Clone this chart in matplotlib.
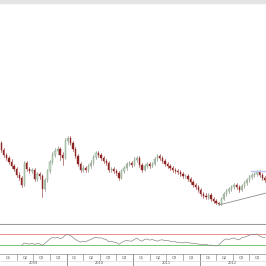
import matplotlib
matplotlib.use("Agg")
import matplotlib.pyplot as plt
from matplotlib.patches import Rectangle

### price candles (two-weekly bars, 2009 - 2012)
first_open = 1.57
closes = [1.50, 1.45, 1.42, 1.38, 1.34, 1.31, 1.25, 1.22, 1.15, 1.37,
          1.31, 1.29, 1.30, 1.21, 1.26, 1.24, 1.11, 1.20, 1.29, 1.38,
          1.45, 1.49, 1.51, 1.45, 1.42, 1.59, 1.62, 1.57, 1.51, 1.44,
          1.36, 1.30, 1.32, 1.30, 1.34, 1.37, 1.43, 1.47, 1.45, 1.42,
          1.39, 1.37, 1.30, 1.31, 1.29, 1.27, 1.22, 1.29, 1.32, 1.36,
          1.37, 1.35, 1.40, 1.42, 1.35, 1.30, 1.34, 1.36, 1.34, 1.36,
          1.41, 1.44, 1.42, 1.39, 1.36, 1.34, 1.32, 1.30, 1.29, 1.28,
          1.26, 1.24, 1.24, 1.21, 1.18, 1.15, 1.13, 1.10, 1.06, 1.04,
          1.03, 1.05, 1.01, 0.99, 0.97, 0.96, 1.01, 1.06, 1.09, 1.11,
          1.13, 1.15, 1.13, 1.10, 1.14, 1.17, 1.20, 1.23, 1.25, 1.26,
          1.28, 1.25, 1.22, 1.20]
highs = [1.59, 1.52, 1.47, 1.44, 1.41, 1.36, 1.33, 1.28, 1.24, 1.39,
         1.39, 1.33, 1.32, 1.32, 1.28, 1.28, 1.26, 1.22, 1.31, 1.40,
         1.48, 1.52, 1.54, 1.53, 1.48, 1.62, 1.64, 1.64, 1.59, 1.53,
         1.46, 1.38, 1.35, 1.34, 1.36, 1.40, 1.45, 1.49, 1.49, 1.47,
         1.44, 1.41, 1.39, 1.33, 1.33, 1.31, 1.29, 1.31, 1.34, 1.38,
         1.39, 1.39, 1.43, 1.44, 1.44, 1.37, 1.36, 1.38, 1.38, 1.38,
         1.43, 1.46, 1.46, 1.44, 1.41, 1.38, 1.36, 1.34, 1.32, 1.31,
         1.30, 1.28, 1.26, 1.26, 1.23, 1.20, 1.17, 1.15, 1.12, 1.08,
         1.07, 1.07, 1.07, 1.03, 1.01, 0.98, 1.03, 1.08, 1.11, 1.13,
         1.15, 1.17, 1.17, 1.15, 1.16, 1.19, 1.22, 1.25, 1.27, 1.28,
         1.30, 1.30, 1.27, 1.24]
lows = [1.48, 1.43, 1.40, 1.36, 1.32, 1.29, 1.23, 1.20, 1.13, 1.14,
        1.29, 1.27, 1.27, 1.19, 1.19, 1.21, 1.03, 1.09, 1.18, 1.27,
        1.36, 1.43, 1.46, 1.40, 1.35, 1.41, 1.56, 1.55, 1.49, 1.42,
        1.34, 1.28, 1.28, 1.28, 1.28, 1.32, 1.35, 1.41, 1.43, 1.40,
        1.37, 1.35, 1.28, 1.28, 1.27, 1.25, 1.20, 1.21, 1.27, 1.30,
        1.34, 1.33, 1.34, 1.38, 1.33, 1.28, 1.29, 1.32, 1.32, 1.33,
        1.35, 1.39, 1.40, 1.37, 1.34, 1.32, 1.30, 1.28, 1.27, 1.26,
        1.24, 1.22, 1.22, 1.19, 1.16, 1.13, 1.11, 1.08, 1.04, 1.02,
        1.01, 1.01, 0.99, 0.97, 0.96, 0.95, 0.95, 1.00, 1.04, 1.07,
        1.09, 1.11, 1.11, 1.08, 1.09, 1.12, 1.15, 1.18, 1.21, 1.23,
        1.24, 1.23, 1.20, 1.18]
opens = [first_open] + closes[:-1]

### RSI(14), starts after the warm-up bars
rsi_start = 8
rsi = [30, 38, 36, 34, 37, 33, 36, 35, 30, 36, 44, 52, 57, 55, 58, 53,
       56, 65, 68, 64, 57, 50, 45, 41, 44, 42, 47, 50, 55, 58, 55, 56,
       52, 50, 42, 44, 41, 39, 33, 40, 44, 47, 45, 44, 50, 55, 48, 44,
       50, 52, 48, 50, 47, 44, 48, 49, 46, 47, 44, 42, 43, 39, 40, 38,
       41, 39, 38, 36, 37, 34, 33, 32, 34, 30, 31, 29, 28, 30, 40, 48,
       52, 50, 54, 55, 51, 49, 56, 58, 61, 65, 68, 67, 69, 62, 58, 57]
rsi_levels = [70, 30]

### drawn lines
trend_x = [85, 103.6]
trend_y = [0.95, 1.07]
resist_x = [97.5, 103.6]
resist_y = [1.29, 1.29]

years = ['2009', '2010', '2011', '2012']
quarters = ['Q1', 'Q2', 'Q3', 'Q4']

UP_EDGE = '#6f9a6f'
UP_FACE = '#cfdccf'
DOWN = '#8e2424'

fig = plt.figure(figsize=(2.66, 2.66), dpi=100)
fig.patch.set_facecolor('white')
fig.patches.append(Rectangle((0, 0.9887), 1, 0.0113, transform=fig.transFigure,
                             color='#e4e4e4', zorder=0))

# main price panel
ax = fig.add_axes([0, 0.1541, 1, 0.8346])
for i in range(len(closes)):
    o, c, h, l = opens[i], closes[i], highs[i], lows[i]
    up = c >= o
    col = UP_EDGE if up else DOWN
    ax.plot([i, i], [l, h], color='#7a7a7a' if up else DOWN, lw=0.4, zorder=2)
    ax.add_patch(Rectangle((i - 0.25, min(o, c)), 0.5, max(abs(c - o), 0.004),
                           facecolor=UP_FACE if up else DOWN, edgecolor=col,
                           lw=0.3, zorder=3))
ax.plot(trend_x, trend_y, color='#8c8c8c', lw=0.6, zorder=4)
ax.plot(resist_x, resist_y, color='#b8c8f0', lw=1.0, zorder=4)
ax.set_xlim(-0.5, 103.5)
ax.set_ylim(0.75, 2.97)
ax.set_xticks([])
ax.set_yticks([])
for s in ['top', 'left', 'right']:
    ax.spines[s].set_visible(False)
ax.spines['bottom'].set_color('#9a9a9a')
ax.spines['bottom'].set_linewidth(1.5)

# RSI panel
ax2 = fig.add_axes([0, 0.0451, 1, 0.109])
ax2.axhline(rsi_levels[0], color='#f08a8a', lw=0.7)
ax2.axhline(rsi_levels[1], color='#7cc47c', lw=0.7)
ax2.plot(range(rsi_start, rsi_start + len(rsi)), rsi, color='#8a8a8a', lw=0.5)
ax2.set_xlim(-0.5, 103.5)
ax2.set_ylim(0, 100)
ax2.set_xticks([])
ax2.set_yticks([])
for s in ['top', 'left', 'right']:
    ax2.spines[s].set_visible(False)
ax2.spines['bottom'].set_color('#a0a0a0')
ax2.spines['bottom'].set_linewidth(0.6)

# date labels: quarters over years
ax3 = fig.add_axes([0, 0, 1, 0.0451])
ax3.set_xlim(0, 16)
ax3.set_ylim(0, 12)
ax3.axis('off')
for y, yr in enumerate(years):
    for q, ql in enumerate(quarters):
        k = y * 4 + q
        ax3.text(k + 0.5, 8.5, ql, fontsize=2.6, color='#555555',
                 ha='center', va='center')
        if q > 0:
            ax3.plot([k, k], [6, 12], color='#777777', lw=0.4)
    ax3.text(y * 4 + 2, 2.8, yr, fontsize=2.6, color='#555555',
             ha='center', va='center')
    if y > 0:
        ax3.plot([y * 4, y * 4], [0, 12], color='#666666', lw=0.5)
ax3.plot([0, 16], [5.5, 5.5], color='#d0d0d0', lw=0.4)

fig.savefig('out.png', dpi=100)
